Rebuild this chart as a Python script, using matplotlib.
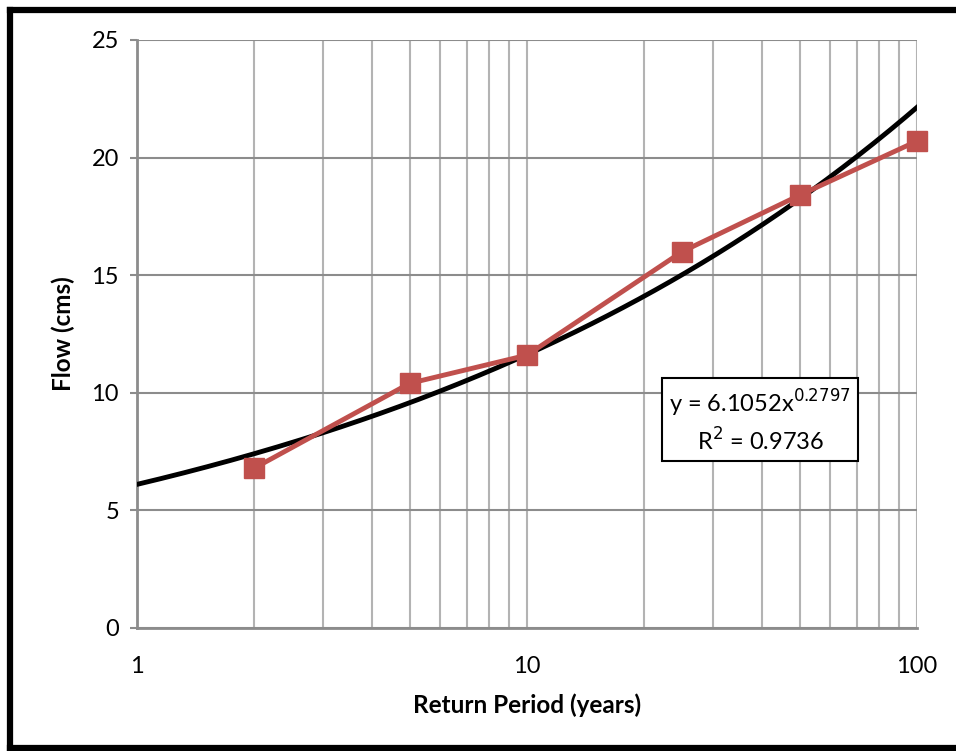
import matplotlib.pyplot as plt
from matplotlib.lines import Line2D
import numpy as np

# return period (years) and observed peak flow (cms)
period = [2, 5, 10, 25, 50, 100]
flow = [6.8, 10.4, 11.6, 16.0, 18.4, 20.7]

# power trendline from the spreadsheet
coef_a = 6.1052
coef_b = 0.2797
r2 = 0.9736

yticks = [0, 5, 10, 15, 20, 25]
xticks = [1, 10, 100]

plt.rcParams['font.family'] = ['Lato', 'DejaVu Sans']

fig = plt.figure(figsize=(9.56, 7.51), dpi=100)
ax = fig.add_axes([0.1433, 0.1638, 0.8159, 0.7830])

ax.set_xscale('log')
ax.set_xlim(1, 100)
ax.set_ylim(0, 25)

ax.grid(True, which='both', axis='x', color='#b3b3b3', linewidth=1.5)
ax.grid(True, which='major', axis='y', color='#8c8c8c', linewidth=1.5)
ax.set_axisbelow(True)

tx = np.logspace(0, 2, 200)
ax.plot(tx, coef_a * tx ** coef_b, color='black', linewidth=3.5, zorder=3)

ax.plot(period, flow, color='#C0504D', linewidth=3.5, marker='s',
        markersize=14, zorder=4, clip_on=False)

ax.set_xticks(xticks)
ax.set_xticklabels([str(v) for v in xticks])
ax.set_yticks(yticks)
ax.set_yticklabels([str(v) for v in yticks])
ax.xaxis.set_minor_formatter(plt.NullFormatter())
ax.tick_params(axis='x', which='both', length=0, pad=20, labelsize=17)
ax.tick_params(axis='y', length=5, width=1.5, color='#8c8c8c', pad=8, labelsize=17)

for side in ['top', 'right']:
    ax.spines[side].set_visible(False)
for side in ['left', 'bottom']:
    ax.spines[side].set_color('#8c8c8c')
    ax.spines[side].set_linewidth(2)

ax.set_xlabel('Return Period (years)', fontsize=17.5, fontweight='bold', labelpad=12)
ax.set_ylabel('Flow (cms)', fontsize=17.5, fontweight='bold', labelpad=12)

ax.text(0.799, 0.352, 'y = %.4fx$^{%.4f}$\nR$^2$ = %.4f' % (coef_a, coef_b, r2),
        transform=ax.transAxes, ha='center', va='center', fontsize=17,
        linespacing=1.35, zorder=5,
        bbox=dict(boxstyle='square,pad=0.3', facecolor='white',
                  edgecolor='black', linewidth=1.5))

# thick outer border (left, top, bottom)
for xs, ys in [([0.0105, 0.0105], [0.004, 0.9867]),
               ([0.0105, 1.0], [0.9867, 0.9867]),
               ([0.0105, 1.0], [0.004, 0.004])]:
    fig.add_artist(Line2D(xs, ys, color='black', linewidth=4.5,
                          transform=fig.transFigure))

fig.savefig('out.png', dpi=100)
